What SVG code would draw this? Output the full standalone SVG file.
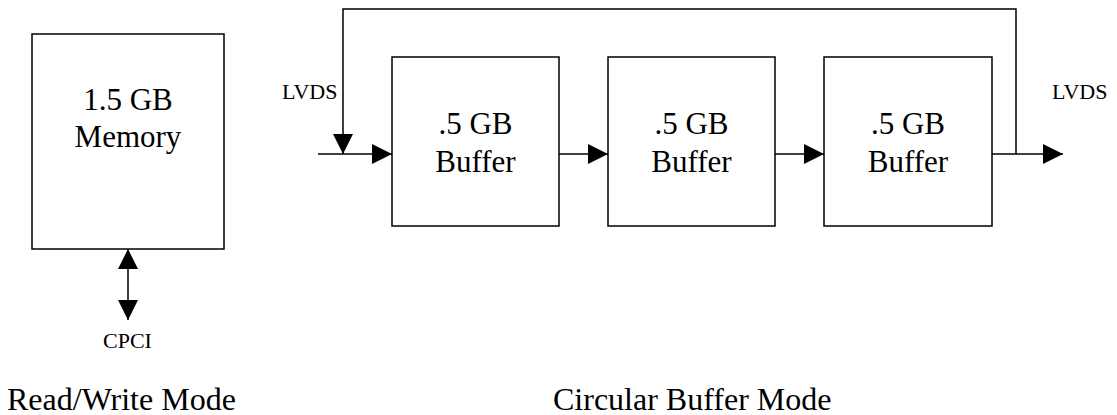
<svg xmlns="http://www.w3.org/2000/svg" width="1117" height="415" viewBox="0 0 1117 415">
<style>
.box{fill:#fff;stroke:#000;stroke-width:1.5}
.ln{fill:none;stroke:#000;stroke-width:1.5}
.big{font-family:"Liberation Serif",serif;font-size:31px;fill:#000;text-anchor:middle}
.sm{font-family:"Liberation Serif",serif;font-size:22px;fill:#000}
.cap{font-family:"Liberation Serif",serif;font-size:32px;fill:#000}
</style>
<defs>
<marker id="ah" viewBox="0 0 20 20" refX="20" refY="10" markerWidth="20" markerHeight="20" markerUnits="userSpaceOnUse" orient="auto-start-reverse">
<path d="M0,0 L20,10 L0,20 Z" fill="#000"/>
</marker>
</defs>
<rect width="1117" height="415" fill="#fff"/>
<g id="connectors">
<line class="ln" x1="128" y1="249" x2="128" y2="320" marker-start="url(#ah)" marker-end="url(#ah)"/>
<line class="ln" x1="318" y1="154" x2="392" y2="154" marker-end="url(#ah)"/>
<polyline class="ln" points="992,154 1016,154 1016,9 343,9 343,154" marker-end="url(#ah)"/>
<line class="ln" x1="1016" y1="154" x2="1063" y2="154" marker-end="url(#ah)"/>
<line class="ln" x1="559" y1="154" x2="608" y2="154" marker-end="url(#ah)"/>
<line class="ln" x1="775" y1="154" x2="824" y2="154" marker-end="url(#ah)"/>
</g>
<g id="memory">
<rect class="box" x="32" y="34" width="192" height="215"/>
<text class="big" x="128" y="110">1.5 GB</text>
<text class="big" x="128" y="147">Memory</text>
</g>
<g id="buffer1">
<rect class="box" x="392" y="57" width="167" height="169"/>
<text class="big" x="475.5" y="134">.5 GB</text>
<text class="big" x="475.5" y="172">Buffer</text>
</g>
<g id="buffer2">
<rect class="box" x="608" y="57" width="167" height="169"/>
<text class="big" x="691.5" y="134">.5 GB</text>
<text class="big" x="691.5" y="172">Buffer</text>
</g>
<g id="buffer3">
<rect class="box" x="824" y="57" width="168" height="169"/>
<text class="big" x="908" y="134">.5 GB</text>
<text class="big" x="908" y="172">Buffer</text>
</g>
<g id="labels">
<text class="sm" x="282" y="99">LVDS</text>
<text class="sm" x="1052" y="99">LVDS</text>
<text class="sm" x="103" y="348">CPCI</text>
<text class="cap" x="7" y="410">Read/Write Mode</text>
<text class="cap" x="553" y="410">Circular Buffer Mode</text>
</g>
</svg>
